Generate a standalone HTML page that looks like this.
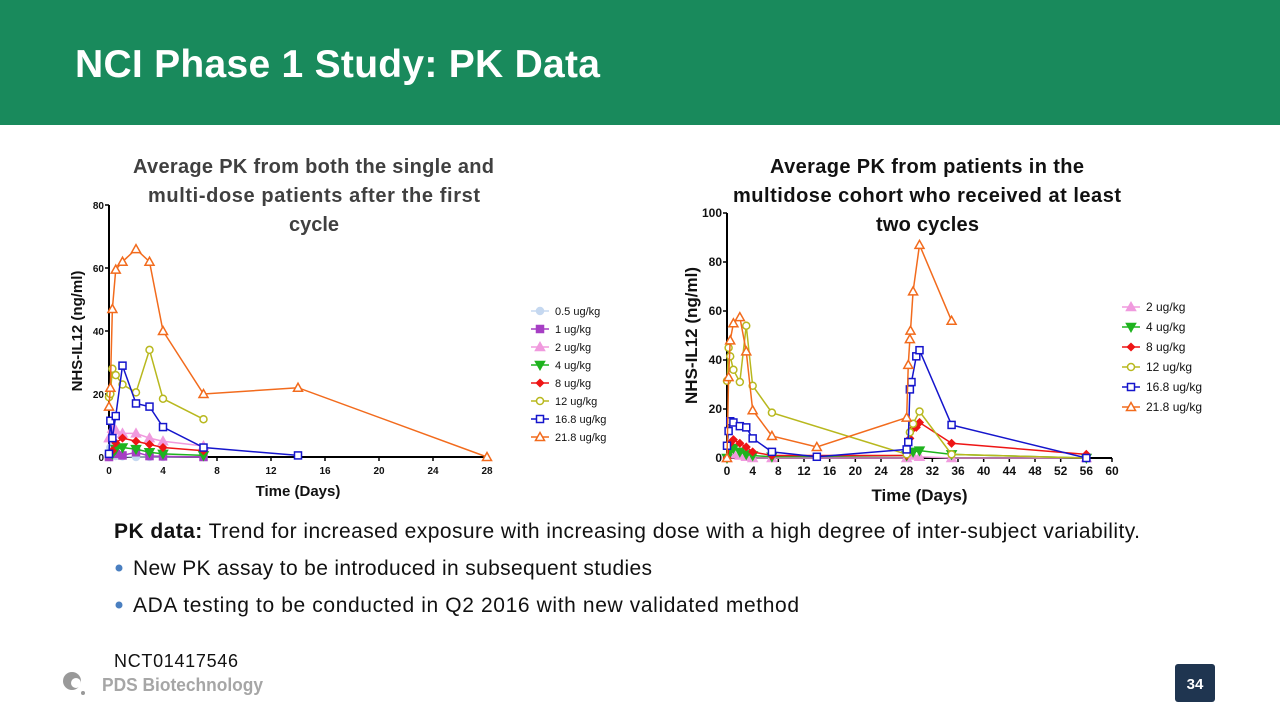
<!DOCTYPE html>
<html><head><meta charset="utf-8"><style>
body{margin:0;width:1280px;height:720px;overflow:hidden;background:#fff;font-family:"Liberation Sans",sans-serif}
svg text{font-family:"Liberation Sans",sans-serif}
</style></head><body>
<svg id="s" width="1280" height="720" xmlns="http://www.w3.org/2000/svg">
<rect x="0" y="0" width="1280" height="125" fill="#198a5c"/>
<text x="75" y="77" fill="#fff" font-size="39" font-weight="bold" textLength="525" lengthAdjust="spacing">NCI Phase 1 Study: PK Data</text>
<g font-size="20" font-weight="bold" fill="#404040">
<text x="133" y="173" textLength="361" lengthAdjust="spacing">Average PK from both the single and</text>
<text x="148" y="202" textLength="332" lengthAdjust="spacing">multi-dose patients after the first</text>
<text x="314" y="231" text-anchor="middle">cycle</text></g>
<g font-size="20" font-weight="bold" fill="#111">
<text x="770" y="173" textLength="314" lengthAdjust="spacing">Average PK from patients in the</text>
<text x="733" y="202" textLength="388" lengthAdjust="spacing">multidose cohort who received at least</text>
<text x="876" y="231" textLength="103" lengthAdjust="spacing">two cycles</text></g>
<g id="c1"></g>
<g id="c2"></g>
<g font-size="21" fill="#111">
<text x="114" y="538" textLength="1026" lengthAdjust="spacing"><tspan font-weight="bold">PK data:</tspan> Trend for increased exposure with increasing dose with a high degree of inter-subject variability.</text>
<circle cx="119" cy="568" r="3.5" fill="#4a7fc0"/><text x="133" y="575" textLength="519" lengthAdjust="spacing">New PK assay to be introduced in subsequent studies</text>
<circle cx="119" cy="605" r="3.5" fill="#4a7fc0"/><text x="133" y="612" textLength="666" lengthAdjust="spacing">ADA testing to be conducted in Q2 2016 with new validated method</text>
</g>
<text x="114" y="667" font-size="18" fill="#111" textLength="124" lengthAdjust="spacing">NCT01417546</text>
<g>
<circle cx="72" cy="681" r="9" fill="#999"/><circle cx="76" cy="683" r="5" fill="#fff"/><circle cx="83" cy="693" r="2" fill="#999"/>
<text x="102" y="691" font-size="18" font-weight="bold" fill="#a6a6a6" textLength="161" lengthAdjust="spacingAndGlyphs">PDS Biotechnology</text></g>
<rect x="1175" y="664" width="40" height="38" rx="3" fill="#1f3550"/>
<text x="1195" y="689" font-size="15" font-weight="bold" fill="#fff" text-anchor="middle">34</text>
</svg>
<script>
// Left chart data
const L_labels=["0.5 ug/kg","1 ug/kg","2 ug/kg","4 ug/kg","8 ug/kg","12 ug/kg","16.8 ug/kg","21.8 ug/kg"];
const L_x05=[0,0.1,0.25,0.5,1,2,3,4,7];const L_y05=[0,3,0.5,0.3,0.2,0,0,0,0];
const L_x1=[0,0.5,1,2,3,4,7];const L_y1=[0,1,0.5,1.5,0.3,0.2,0];
const L_x2=[0,0.25,0.5,1,2,3,4,7];const L_y2=[6,9,8.5,7.5,7.5,6,5,3.5];
const L_x4=[0.25,0.5,1,2,3,4,7];const L_y4=[1,2.5,3,2.5,1.5,1,0.5];
const L_x8=[0.25,0.5,1,2,3,4,7];const L_y8=[2,4.5,6,5,4,3,2];
const L_x12=[0,0.1,0.25,0.5,1,2,3,4,7];const L_y12=[19,20,28,26,23,20.5,34,18.5,12];
const L_x16=[0,0.1,0.25,0.5,1,2,3,4,7,14];const L_y16=[1,11.5,6,13,29,17,16,9.5,3,0.5];
const L_x21=[0,0.1,0.25,0.5,1,2,3,4,7,14,28];const L_y21=[16,22,47,59.5,62,66,62,40,20,22,0];
const L_xticks=[0,4,8,12,16,20,24,28];const L_yticks=[0,20,40,60,80];
// Right chart data
const R_labels=["2 ug/kg","4 ug/kg","8 ug/kg","12 ug/kg","16.8 ug/kg","21.8 ug/kg"];
const R_x2=[0,0.5,1,2,3,4,7,28,29,30,35,56];const R_y2=[0,1.5,2,1,0.5,0,0,0,1,0.5,0,0];
const R_x4=[0,0.5,1,2,3,4,7,28,29,30,35,56];const R_y4=[0,3,4,2.5,1.5,1,0.5,1,2.5,3,1.5,0];
const R_x8=[0,0.5,1,2,3,4,7,28,28.5,29,29.5,30,35,56];const R_y8=[0,6,7.5,6,4.5,2.5,1,1,8,12,12.5,14.5,6,1.5];
const R_x12=[0,0.25,0.5,1,2,3,4,7,28,28.5,29,30,35,56];const R_y12=[31.5,45,41.5,36,31,54,29.5,18.5,1.5,10.5,14,19,1.5,0];
const R_x16=[0,0.25,0.5,1,2,3,4,7,14,28,28.25,28.5,28.75,29.5,30,35,56];const R_y16=[5,11,15,14.5,13,12.5,8,2.5,0.5,3.5,6.5,28,31,41.5,44,13.5,0];
const R_x21=[0,0.25,0.5,1,2,3,4,7,14,28,28.25,28.5,28.6,29,30,35];const R_y21=[0,33,48,55,57.5,43.5,19.5,9,4.5,16.5,38,48.5,52,68,87,56];
const R_xticks=[0,4,8,12,16,20,24,28,32,36,40,44,48,52,56,60];const R_yticks=[0,20,40,60,80,100];

const NS="http://www.w3.org/2000/svg";
function mk(p,t,a){const e=document.createElementNS(NS,t);for(const k in a)e.setAttribute(k,a[k]);p.appendChild(e);return e;}
const STY={
"0.5 ug/kg":["#c5d8f0","circle",true],"1 ug/kg":["#a63fc4","square",true],"2 ug/kg":["#f09ade","tri",true],
"4 ug/kg":["#1fb31f","tridown",true],"8 ug/kg":["#ee1515","diamond",true],"12 ug/kg":["#b8b81e","circle",false],
"16.8 ug/kg":["#1515cc","square",false],"21.8 ug/kg":["#f26b1d","tri",false]};
function marker(g,sh,x,y,c,fill){
 const f=fill?c:"#fff",sw=1.5;let e;
 if(sh==="circle")e=mk(g,"circle",{cx:x,cy:y,r:3.5,fill:f,stroke:c,"stroke-width":sw});
 else if(sh==="square")e=mk(g,"rect",{x:x-3.5,y:y-3.5,width:7,height:7,fill:f,stroke:c,"stroke-width":sw});
 else if(sh==="tri")e=mk(g,"polygon",{points:`${x},${y-4.5} ${x-4.5},${y+3.5} ${x+4.5},${y+3.5}`,fill:f,stroke:c,"stroke-width":sw});
 else if(sh==="tridown")e=mk(g,"polygon",{points:`${x},${y+4.5} ${x-4.5},${y-3.5} ${x+4.5},${y-3.5}`,fill:f,stroke:c,"stroke-width":sw});
 else e=mk(g,"polygon",{points:`${x},${y-3.5} ${x-3.5},${y} ${x},${y+3.5} ${x+3.5},${y}`,fill:f,stroke:c,"stroke-width":sw});
 return e;
}
function chart(gid,o){
 const g=document.getElementById(gid);
 const sx=v=>o.x0+(v-o.xmin)/(o.xmax-o.xmin)*(o.x1-o.x0);
 const sy=v=>o.y0-(v)/(o.ymax)*(o.y0-o.y1);
 const ax=mk(g,"g",{});
 
 
 mk(ax,"line",{x1:o.x0,y1:o.y0,x2:o.x1,y2:o.y0,stroke:"#000","stroke-width":2});
 mk(ax,"line",{x1:o.x0,y1:o.y0,x2:o.x0,y2:o.y1,stroke:"#000","stroke-width":2});
 o.xt.forEach(v=>{mk(ax,"line",{x1:sx(v),y1:o.y0,x2:sx(v),y2:o.y0+4,stroke:"#000","stroke-width":1.5});
  const t=mk(ax,"text",{x:sx(v),y:o.y0+17,"font-size":o.fs,"font-weight":"bold","text-anchor":"middle",fill:"#111"});t.textContent=v;
  });
 o.yt.forEach(v=>{mk(ax,"line",{x1:o.x0-4,y1:sy(v),x2:o.x0,y2:sy(v),stroke:"#000","stroke-width":1.5});
  const t=mk(ax,"text",{x:o.x0-5,y:sy(v)+4,"font-size":o.fs,"font-weight":"bold","text-anchor":"end",fill:"#111"});t.textContent=v;
  });
 const xl=mk(ax,"text",{x:(o.x0+o.x1)/2,y:o.y0+o.xlo,"font-size":o.lfs,"font-weight":"bold","text-anchor":"middle",fill:"#111"});xl.textContent="Time (Days)";
 
 const yl=mk(ax,"text",{x:0,y:0,transform:`translate(${o.x0-o.ylo},${(o.y0+o.y1)/2}) rotate(-90)`,"font-size":o.lfs,"font-weight":"bold","text-anchor":"middle",fill:"#111"});yl.textContent="NHS-IL12 (ng/ml)";
 
 o.series.forEach((s,i)=>{
  const [c,sh,fill]=STY[s.l];
  const sg=mk(g,"g",{});
  
  
  mk(sg,"polyline",{points:s.x.map((v,j)=>sx(v)+","+sy(s.y[j])).join(" "),fill:"none",stroke:c,"stroke-width":1.5});
  s.x.forEach((v,j)=>{const m=marker(sg,sh,sx(v),sy(s.y[j]),c,fill);
   });
  const lg=mk(g,"g",{});
  
  
  const ly=o.ly+i*o.ld;
  mk(lg,"line",{x1:o.lx,y1:ly,x2:o.lx+18,y2:ly,stroke:c,"stroke-width":1.5});
  marker(lg,sh,o.lx+9,ly,c,fill);
  const t=mk(lg,"text",{x:o.lx+24,y:ly+4,"font-size":o.lgfs,"font-family":"Liberation Serif",fill:"#111"});t.textContent=s.l;
 });
}
chart("c1",{x0:109,x1:487,xmin:0,xmax:28,y0:457,y1:205,ymax:80,xt:L_xticks,yt:L_yticks,fs:10,lfs:15,xlo:39,ylo:27,
 lx:531,ly:311,ld:18,lgfs:11,
 series:[{l:L_labels[0],x:L_x05,y:L_y05},{l:L_labels[1],x:L_x1,y:L_y1},{l:L_labels[2],x:L_x2,y:L_y2},{l:L_labels[3],x:L_x4,y:L_y4},
 {l:L_labels[4],x:L_x8,y:L_y8},{l:L_labels[5],x:L_x12,y:L_y12},{l:L_labels[6],x:L_x16,y:L_y16},{l:L_labels[7],x:L_x21,y:L_y21}]});
chart("c2",{x0:727,x1:1112,xmin:0,xmax:60,y0:458,y1:213,ymax:100,xt:R_xticks,yt:R_yticks,fs:12,lfs:17,xlo:43,ylo:30,
 lx:1122,ly:307,ld:20,lgfs:12,
 series:[{l:R_labels[0],x:R_x2,y:R_y2},{l:R_labels[1],x:R_x4,y:R_y4},{l:R_labels[2],x:R_x8,y:R_y8},
 {l:R_labels[3],x:R_x12,y:R_y12},{l:R_labels[4],x:R_x16,y:R_y16},{l:R_labels[5],x:R_x21,y:R_y21}]});
</script>
</body></html>
